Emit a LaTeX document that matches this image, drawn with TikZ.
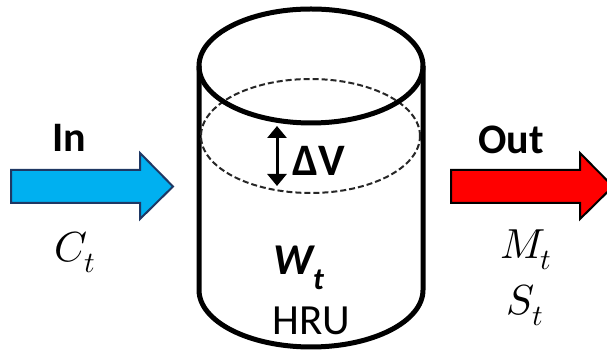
\documentclass[tikz,border=0pt]{standalone}
\usepackage{fontspec}
\usepackage{unicode-math}
\setmainfont{Carlito}
\setmathfont{Latin Modern Math}
\usetikzlibrary{arrows.meta}
\definecolor{inblue}{HTML}{00B0F0}
\definecolor{inedge}{HTML}{1F3864}
\tikzset{
  lbl/.style={inner sep=0pt, anchor=base, font=\fontsize{43}{46}\selectfont},
  boldlbl/.style={inner sep=0pt, anchor=base, font=\fontsize{42}{46}\selectfont\bfseries},
  mathlbl/.style={inner sep=0pt, anchor=base, font=\fontsize{42}{46}\selectfont},
  tank/.style={line width=5pt},
  blockarrow/.style={line width=2pt, line join=miter},
}
\begin{document}
\begin{tikzpicture}[x=1pt,y=1pt]
\useasboundingbox (0,0) rectangle (607,352);
\fill[white] (0,0) rectangle (607,352);

% inflow arrow
\draw[blockarrow, fill=inblue, draw=inedge]
  (11,182) -- (140,182) -- (140,199) -- (173,165.5) -- (140,133) -- (140,149) -- (11,149) -- cycle;
\node[boldlbl] (inlbl) at (69.5,200) {In};
\node[mathlbl] (ct) at (75,90) {$C_t$};

% outflow arrow
\draw[blockarrow, fill=red, draw=black]
  (451,182) -- (580,182) -- (580,199) -- (613,165.5) -- (580,133) -- (580,149) -- (451,149) -- cycle;
\node[boldlbl] (outlbl) at (511,198) {Out};
\node[mathlbl] (mt) at (526,93) {$M_t$};
\node[mathlbl] (st) at (525,37) {$S_t$};

% storage tank
\coordinate (tc) at (311,286);
\coordinate (bc) at (311,62);
\draw[tank, fill=white] (199,286) -- (199,62) arc[start angle=180, end angle=360, x radius=112, y radius=57] -- (423,286);
\draw[line width=2pt, draw=black!85, dash pattern=on 6pt off 3pt] (310.5,216) ellipse[x radius=109.5, y radius=57];
\draw[tank] (tc) ellipse[x radius=112, y radius=57];

% change in storage
\coordinate (dvtop) at (277,226);
\coordinate (dvbot) at (277,166);
\draw[line width=3pt, {Triangle[length=12pt,width=19pt]}-{Triangle[length=12pt,width=19pt]}] (dvtop) -- (dvbot);
\node[inner sep=0pt, anchor=base west, font=\fontsize{45}{48}\selectfont\bfseries] (dv) at (292,176) {ΔV};

\node[inner sep=0pt, anchor=base west, font=\fontsize{44}{46}\selectfont\bfseries\itshape] (wt) at (273,77) {W\raisebox{-15pt}{\fontsize{31}{32}\selectfont t}};
\node[lbl] (hru) at (311.5,17) {HRU};
\end{tikzpicture}
\end{document}
